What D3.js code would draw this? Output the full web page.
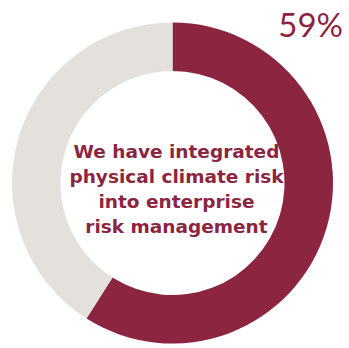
<!DOCTYPE html>
<html>
<head>
<meta charset="utf-8">
<script src="https://cdn.jsdelivr.net/npm/d3@7"></script>
<style>
  body { margin: 0; background: #fff; }
  text { font-family: Lato, "Open Sans", sans-serif; }
  .center { font-family: "DejaVu Sans", sans-serif; }
</style>
</head>
<body>
<svg width="349" height="348"></svg>
<script>
// share of respondents
var categories = ["Integrated", "Not integrated"];
var values = [59, 41];
var colors = ["#8c2540", "#e4e1dd"];
var pctLabel = "59%";
var centerLines = ["We have integrated", "physical climate risk", "into enterprise", "risk management"];

var svg = d3.select("svg"),
    cx = 172.5, cy = 183,
    outerR = 160.5, innerR = 112;

var pie = d3.pie().sort(null).value(function(d) { return d; });
var arc = d3.arc().innerRadius(innerR).outerRadius(outerR);
var color = d3.scaleOrdinal().domain(categories).range(colors);

var g = svg.append("g").attr("transform", "translate(" + cx + "," + cy + ")");

g.selectAll("path")
    .data(pie(values))
    .enter().append("path")
    .attr("d", arc)
    .attr("fill", function(d, i) { return color(categories[i]); });

// big percentage, top right
svg.append("text")
    .attr("x", 343)
    .attr("y", 37)
    .attr("text-anchor", "end")
    .attr("fill", "#8c2540")
    .style("font-size", "33px")
    .text(pctLabel);

// label in the hole
svg.append("g").selectAll("text")
    .data(centerLines)
    .enter().append("text")
    .attr("class", "center")
    .attr("x", 176.5)
    .attr("y", function(d, i) { return 158 + i * 25; })
    .attr("text-anchor", "middle")
    .attr("fill", "#8c2540")
    .style("font-size", "18.5px")
    .style("font-weight", "bold")
    .text(function(d) { return d; });
</script>
</body>
</html>
